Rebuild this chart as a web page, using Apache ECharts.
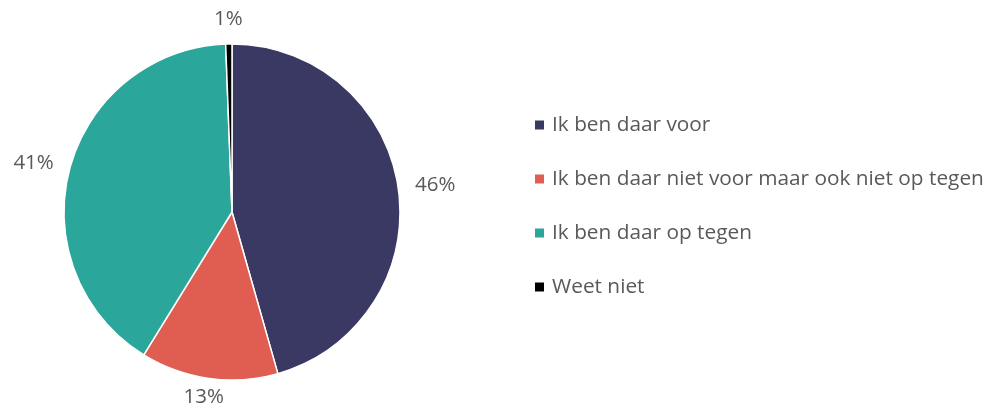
<!DOCTYPE html>
<html><head><meta charset="utf-8">
<script src="https://cdn.jsdelivr.net/npm/echarts@6/dist/echarts.min.js"></script>
<style>html,body{margin:0;padding:0;background:#fff}#c{width:988px;height:408px}</style>
</head><body><div id="c"></div>
<script>
const categories = ['Ik ben daar voor', 'Ik ben daar niet voor maar ook niet op tegen', 'Ik ben daar op tegen', 'Weet niet'];
const values = [45.6, 13.2, 40.6, 0.6];
const colors = ['#393963', '#df5e51', '#2ba69b', '#000000'];

const LABEL_FONT = 20.5;
const chart = echarts.init(document.getElementById('c'));
chart.setOption({
  animation: false,
  color: colors,
  legend: {
    orient: 'vertical',
    left: 528,
    top: 109,
    icon: 'rect',
    itemWidth: 11,
    itemHeight: 11,
    itemGap: 32,
    textStyle: { fontFamily: 'Open Sans', fontSize: 20.8, color: '#595959', lineHeight: 22, padding: [0,0,0,2] },
    data: categories
  },
  series: [{
    type: 'pie',
    center: [232, 212],
    radius: 168,
    startAngle: 90,
    clockwise: true,
    avoidLabelOverlap: false,
    itemStyle: { borderColor: '#fff', borderWidth: 1.5 },
    label: {
      show: true,
      position: 'outside',
      fontFamily: 'Open Sans',
      fontSize: LABEL_FONT,
      color: '#595959',
      formatter: p => Math.round(p.value) + '%'
    },
    labelLine: { show: false, length: 17, length2: 0 },
    labelLayout: function (p) {
      const pts = p.labelLinePoints;
      if (!pts) return {};
      const a = pts[0], b = pts[1];
      let dx = b[0] - a[0], dy = b[1] - a[1];
      const len = Math.sqrt(dx * dx + dy * dy) || 1;
      dx /= len; dy /= len;
      const w = p.labelRect.width, h = LABEL_FONT * 0.8;
      const maxY = chart.getHeight() - LABEL_FONT * 0.55;
      return {
        x: b[0] + dx * w / 2,
        y: Math.min(b[1] + dy * h / 2, maxY),
        align: 'center',
        verticalAlign: 'middle'
      };
    },
    emphasis: { disabled: true },
    data: categories.map((n, i) => ({ name: n, value: values[i] }))
  }]
});
</script></body></html>
